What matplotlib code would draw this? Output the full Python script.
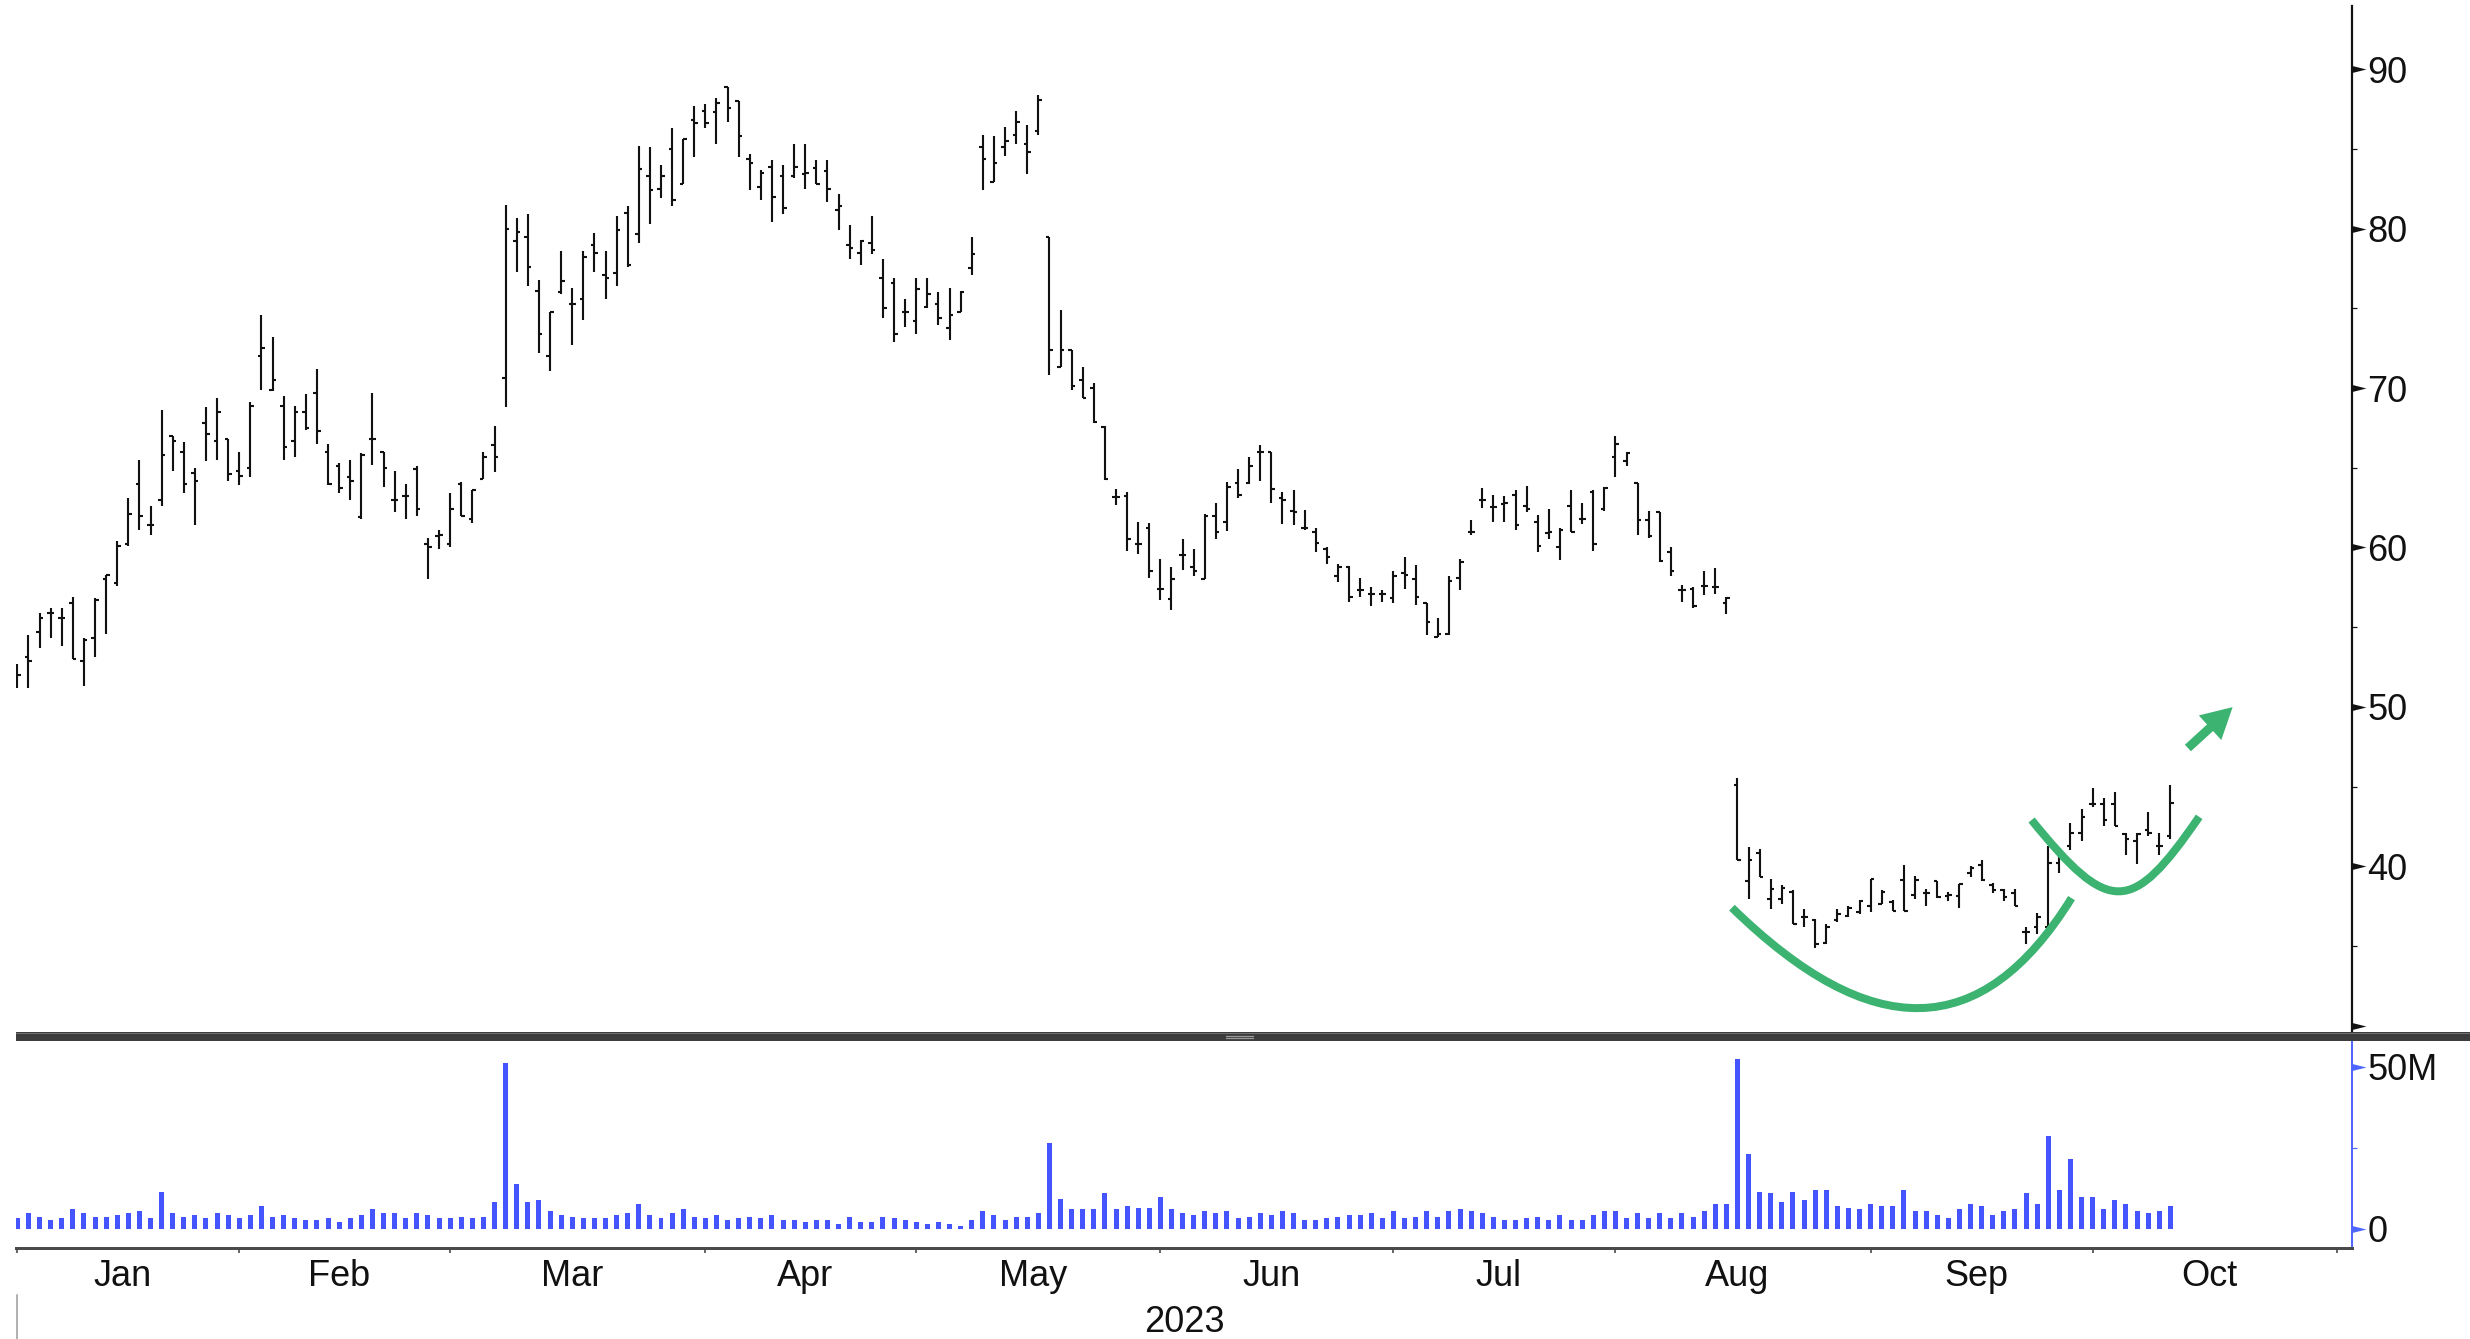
"""Daily OHLC bar chart with volume pane, Jan-Oct 2023, plus cup-and-handle sketch."""

import matplotlib
matplotlib.use("Agg")
import matplotlib.pyplot as plt
import numpy as np
from matplotlib.collections import LineCollection
from matplotlib.lines import Line2D
from matplotlib.markers import MarkerStyle
from matplotlib.patches import FancyArrowPatch, PathPatch, Rectangle
from matplotlib.path import Path
from matplotlib.transforms import blended_transform_factory

plt.rcParams["font.family"] = ["Liberation Sans", "DejaVu Sans"]

# ---- data (one bar per trading day) ----
opens = [
    52.0, 53.1, 54.7, 55.9, 55.6, 56.5, 52.9, 54.3, 58.0, 57.8,
    60.2, 64.0, 61.4, 63.0, 67.0, 66.0, 64.7, 67.8, 66.7, 66.8,
    64.8, 65.0, 72.0, 69.9, 68.9, 66.7, 68.5, 69.7, 66.0, 65.1,
    64.4, 61.9, 66.8, 66.0, 63.0, 63.2, 64.9, 60.2, 60.7, 60.2,
    64.0, 61.8, 64.3, 66.4, 70.6, 79.2, 79.45, 76.1, 72.0, 76.0,
    75.25, 75.6, 79.0, 77.1, 77.2, 81.0, 79.65, 83.3, 82.5, 85.0,
    82.8, 86.8, 87.4, 87.3, 88.9, 88.0, 84.4, 82.6, 83.9, 83.3,
    83.3, 83.4, 83.8, 83.6, 81.15, 79.0, 78.5, 79.1, 76.9, 76.6,
    74.75, 74.2, 75.1, 75.25, 73.75, 74.8, 77.55, 85.1, 82.95, 85.1,
    85.9, 85.3, 86.1, 79.5, 71.3, 72.4, 70.5, 70.0, 67.55, 63.15,
    63.2, 60.2, 61.2, 57.4, 56.75, 59.5, 58.75, 58.0, 62.0, 61.6,
    64.05, 64.05, 66.0, 66.0, 63.1, 62.3, 61.2, 61.0, 59.9, 58.2,
    58.8, 57.3, 57.1, 57.1, 56.8, 58.4, 58.0, 56.5, 54.4, 54.6,
    58.1, 61.0, 63.0, 62.55, 62.7, 63.3, 62.6, 61.6, 60.9, 60.0,
    62.6, 61.8, 63.5, 62.4, 65.7, 65.4, 64.05, 61.7, 62.2, 59.7,
    57.3, 57.4, 57.6, 57.5, 56.5, 45.1, 39.1, 40.85, 37.95, 37.95,
    38.4, 36.8, 36.6, 35.2, 36.6, 36.9, 37.1, 37.5, 37.6, 37.75,
    39.15, 38.2, 38.3, 39.1, 38.15, 38.15, 39.6, 40.05, 38.8, 38.5,
    38.3, 35.9, 36.2, 36.2, 40.2, 41.3, 42.1, 43.9, 43.9, 43.9,
    42.0, 41.6, 42.25, 41.3, 41.9,
]
highs = [
    52.7, 54.5, 55.9, 56.2, 56.2, 56.9, 54.3, 56.8, 58.3, 60.4,
    63.1, 65.5, 62.6, 68.6, 67.0, 66.6, 65.0, 68.8, 69.4, 66.8,
    66.0, 69.1, 74.6, 73.2, 69.5, 68.9, 69.6, 71.2, 66.5, 65.3,
    65.5, 65.9, 69.7, 66.0, 64.8, 64.0, 65.1, 60.6, 61.1, 63.4,
    64.1, 63.6, 66.0, 67.6, 81.5, 80.7, 80.95, 76.8, 74.8, 78.6,
    76.25, 78.6, 79.7, 78.6, 80.8, 81.4, 85.2, 85.1, 84.0, 86.3,
    85.6, 87.7, 87.8, 88.2, 88.9, 88.0, 84.7, 83.7, 84.3, 84.0,
    85.3, 85.3, 84.3, 84.3, 82.2, 80.2, 79.3, 80.8, 78.1, 76.9,
    75.6, 76.9, 76.9, 76.05, 76.25, 76.1, 79.45, 85.9, 85.8, 86.4,
    87.4, 86.5, 88.4, 79.5, 74.9, 72.4, 71.35, 70.3, 67.6, 63.65,
    63.45, 61.6, 61.55, 59.3, 58.75, 60.5, 59.9, 62.1, 62.8, 64.1,
    64.9, 65.7, 66.4, 66.0, 63.5, 63.6, 62.35, 61.2, 60.0, 58.95,
    58.85, 58.1, 57.5, 57.3, 58.5, 59.4, 58.9, 56.5, 55.6, 58.2,
    59.3, 61.7, 63.7, 63.3, 63.2, 63.6, 63.85, 62.06, 62.4, 61.25,
    63.6, 62.8, 63.6, 63.8, 67.0, 66.0, 64.05, 62.3, 62.2, 60.0,
    57.65, 57.5, 58.5, 58.7, 56.9, 45.55, 41.2, 41.05, 39.17, 38.8,
    38.5, 37.3, 36.7, 36.35, 37.3, 37.5, 37.9, 39.2, 38.5, 37.9,
    40.05, 39.4, 38.6, 39.1, 38.4, 38.9, 40.0, 40.4, 38.96, 38.55,
    38.6, 36.2, 37.06, 41.3, 40.9, 42.7, 43.6, 44.9, 44.3, 44.65,
    42.1, 42.1, 43.4, 42.1, 45.1,
]
lows = [
    51.2, 51.2, 53.7, 54.3, 53.8, 53.0, 51.3, 53.1, 54.6, 57.6,
    60.1, 61.1, 60.8, 62.6, 64.8, 63.4, 61.4, 65.4, 65.5, 64.2,
    63.9, 64.4, 69.9, 69.8, 65.5, 65.7, 67.4, 66.5, 63.9, 63.4,
    63.0, 61.8, 65.2, 63.8, 62.2, 61.8, 62.0, 58.0, 59.9, 60.0,
    62.0, 61.55, 64.3, 64.75, 68.8, 77.3, 76.4, 72.2, 71.1, 75.9,
    72.7, 74.3, 77.3, 75.6, 76.4, 77.6, 79.1, 80.3, 81.9, 81.4,
    82.8, 84.5, 86.3, 85.3, 86.7, 84.5, 82.45, 81.8, 80.4, 80.9,
    83.2, 82.5, 82.8, 81.7, 79.9, 78.1, 77.7, 78.4, 74.4, 72.9,
    73.8, 73.4, 75.0, 73.95, 73.0, 74.75, 77.1, 82.45, 82.9, 84.55,
    85.3, 83.45, 85.9, 70.8, 71.3, 69.9, 69.35, 67.8, 64.25, 62.65,
    59.8, 59.6, 58.1, 56.7, 56.1, 58.6, 58.2, 58.0, 60.5, 61.05,
    63.1, 64.0, 64.2, 62.8, 61.5, 61.4, 61.1, 59.7, 58.95, 57.85,
    56.6, 56.9, 56.3, 56.6, 56.5, 57.4, 56.4, 54.5, 54.4, 54.5,
    57.3, 60.8, 62.5, 61.6, 61.6, 61.1, 62.2, 59.7, 60.5, 59.2,
    61.0, 61.5, 59.8, 62.3, 64.4, 65.1, 60.8, 60.6, 59.1, 58.2,
    56.6, 56.2, 57.0, 57.1, 55.8, 40.4, 37.95, 39.3, 37.3, 37.6,
    36.4, 36.2, 34.85, 35.1, 36.5, 36.8, 37.0, 37.1, 37.6, 37.2,
    37.2, 37.95, 37.5, 38.0, 37.8, 37.4, 39.35, 39.1, 38.3, 37.85,
    37.5, 35.1, 35.76, 36.2, 39.6, 41.0, 41.6, 43.7, 42.5, 42.5,
    40.7, 40.15, 41.9, 40.7, 41.7,
]
closes = [
    52.0, 52.9, 55.6, 55.9, 55.6, 53.0, 54.2, 56.7, 58.3, 60.1,
    62.1, 62.0, 61.4, 65.8, 66.7, 64.0, 64.2, 67.1, 68.5, 64.6,
    64.5, 68.9, 72.5, 70.5, 66.3, 68.5, 67.5, 67.3, 63.95, 63.7,
    64.2, 65.8, 66.8, 65.0, 63.0, 63.2, 62.4, 60.0, 60.8, 62.4,
    62.0, 63.6, 65.7, 65.7, 80.0, 79.8, 77.6, 73.4, 74.8, 76.7,
    75.25, 78.2, 78.5, 76.9, 79.9, 77.7, 83.75, 82.4, 83.3, 81.8,
    85.6, 86.6, 86.6, 87.9, 87.6, 85.8, 84.1, 83.5, 82.0, 81.3,
    83.9, 83.5, 82.8, 82.5, 81.4, 78.8, 79.2, 78.65, 75.0, 73.4,
    74.75, 76.2, 75.9, 74.4, 74.6, 76.05, 78.4, 84.35, 84.1, 85.5,
    86.7, 84.8, 88.1, 72.4, 72.4, 70.1, 69.4, 67.9, 64.3, 63.15,
    60.5, 60.2, 58.5, 57.4, 58.0, 59.5, 58.5, 62.0, 61.0, 63.8,
    63.3, 65.1, 66.0, 63.65, 63.0, 62.2, 61.2, 60.25, 59.4, 58.8,
    56.9, 57.3, 57.1, 57.1, 58.2, 58.3, 56.9, 55.35, 54.6, 57.9,
    59.1, 61.0, 63.0, 62.55, 62.8, 61.4, 62.4, 60.1, 61.0, 61.1,
    61.0, 61.8, 60.2, 63.7, 66.5, 65.9, 61.7, 60.7, 59.15, 58.5,
    57.3, 56.3, 57.6, 57.5, 56.85, 40.4, 40.4, 39.35, 38.6, 38.65,
    36.4, 36.8, 35.1, 36.2, 37.0, 37.4, 37.8, 39.2, 38.4, 37.2,
    37.2, 39.15, 38.3, 38.1, 38.2, 38.9, 39.9, 39.15, 38.5, 38.05,
    37.5, 35.9, 36.8, 40.2, 40.7, 42.1, 43.1, 43.9, 42.9, 42.5,
    41.7, 42.0, 42.1, 41.3, 43.97,
]
volume_m = [  # millions of shares
    3.4, 4.9, 3.8, 2.8, 3.4, 6.1, 4.9, 3.8, 3.8, 4.4,
    4.9, 5.5, 3.4, 11.5, 4.9, 3.8, 4.4, 3.4, 4.9, 4.4,
    3.4, 4.4, 7.1, 3.8, 4.4, 3.4, 2.8, 2.8, 3.4, 2.2,
    3.4, 4.4, 6.1, 4.9, 4.9, 3.4, 4.9, 4.4, 3.4, 3.4,
    3.8, 3.4, 3.8, 8.2, 51.2, 13.9, 8.2, 8.8, 5.5, 4.4,
    3.8, 3.4, 3.4, 3.4, 4.4, 4.9, 7.7, 4.4, 3.4, 4.9,
    6.1, 3.8, 3.4, 4.4, 2.8, 3.4, 3.8, 3.4, 4.4, 2.8,
    2.8, 2.2, 2.8, 2.8, 1.6, 3.8, 2.2, 2.2, 3.8, 3.4,
    2.8, 2.2, 1.6, 2.2, 1.6, 1.0, 2.8, 5.5, 4.4, 2.8,
    3.8, 3.8, 4.9, 26.5, 9.3, 6.1, 6.1, 6.1, 11.0, 6.1,
    7.1, 6.6, 6.6, 9.8, 6.1, 4.9, 4.4, 5.5, 4.9, 5.5,
    3.4, 3.8, 4.9, 4.4, 5.5, 4.9, 2.8, 2.8, 3.4, 3.8,
    4.4, 4.4, 4.9, 3.4, 5.5, 3.4, 3.8, 5.5, 3.8, 5.5,
    6.1, 5.5, 4.9, 3.8, 2.8, 2.8, 3.4, 3.8, 2.8, 4.4,
    2.8, 2.8, 4.4, 5.5, 5.5, 3.4, 4.9, 3.4, 4.9, 3.4,
    4.9, 3.8, 5.5, 7.7, 7.7, 52.3, 23.2, 11.5, 11.0, 8.2,
    11.5, 8.8, 12.1, 12.1, 7.1, 6.6, 6.1, 7.7, 7.1, 7.1,
    12.1, 5.5, 5.5, 4.4, 3.4, 6.1, 7.7, 7.1, 4.4, 5.5,
    6.1, 11.0, 7.7, 28.7, 12.1, 21.7, 9.8, 9.8, 6.1, 8.8,
    7.7, 5.5, 4.9, 5.5, 7.1,
]

month_names = ["Jan", "Feb", "Mar", "Apr", "May", "Jun", "Jul", "Aug", "Sep", "Oct"]
month_starts = [0, 20, 39, 62, 81, 103, 124, 144, 167, 187, 209]  # trading-day index
price_ticks = [30, 40, 50, 60, 70, 80, 90]
price_labels = ["", "40", "50", "60", "70", "80", "90"]
price_minor = [35, 45, 55, 65, 75, 85]
vol_ticks = [0, 50]
vol_labels = ["0", "50M"]
vol_minor = [25]

# hand-drawn annotation: two cups (cubic Bezier anchors) and the breakout arrow
cup_big = [(154.5, 37.4), (167.0, 28.9), (177.0, 28.9), (185.1, 38.0)]
cup_small = [(181.5, 42.9), (188.5, 36.9), (190.5, 36.9), (196.6, 43.1)]
arrow_tail, arrow_tip = (195.4, 47.3), (199.8, 50.1)

W, H = 2470, 1339
BLACK = "#111111"
BLUE = "#4455ff"
GREEN = "#3cb371"
XLIM = (-0.12, 210.4)


def px(v):
    """pixels -> points at dpi 100"""
    return v * 0.72


def tri_marker():
    verts = [(0, -0.25), (1, 0), (0, 0.25), (0, -0.25)]
    return MarkerStyle(Path(verts, [Path.MOVETO, Path.LINETO, Path.LINETO, Path.CLOSEPOLY]))


def arrow_ticks(ax, values, color):
    tr = blended_transform_factory(ax.transAxes, ax.transData)
    ax.plot(np.ones(len(values)), values, transform=tr, ls="none", marker=tri_marker(),
            ms=20, color=color, mec=color, mew=0, clip_on=False, zorder=6)


def draw_ohlc(ax):
    x = np.arange(len(opens))
    segs = []
    for i, o, h, l, c in zip(x, opens, highs, lows, closes):
        segs.append([(i, l), (i, h)])
        segs.append([(i - 0.32, o), (i, o)])
        segs.append([(i, c), (i + 0.32, c)])
    ax.add_collection(LineCollection(segs, colors=BLACK, linewidths=px(2.1),
                                     capstyle="butt"))


def bezier(pts):
    return Path(pts, [Path.MOVETO, Path.CURVE4, Path.CURVE4, Path.CURVE4])


def main():
    fig = plt.figure(figsize=(W / 100, H / 100), dpi=100)
    left, right = 16 / W, 2352.3 / W
    ax = fig.add_axes([left, 1 - 1032 / H, right - left, (1032 - 6) / H])
    axv = fig.add_axes([left, 1 - 1248.3 / H, right - left, (1248.3 - 1041) / H])

    # ---- price pane ----
    draw_ohlc(ax)
    ax.set_xlim(*XLIM)
    ax.set_ylim(29.6, 93.97)
    for s in ["left", "top", "bottom"]:
        ax.spines[s].set_visible(False)
    ax.spines["right"].set_color(BLACK)
    ax.spines["right"].set_linewidth(px(2.2))
    ax.set_xticks([])
    ax.yaxis.tick_right()
    ax.set_yticks(price_ticks)
    ax.set_yticklabels(price_labels)
    ax.set_yticks(price_minor, minor=True)
    ax.tick_params(axis="y", which="major", length=0, pad=11, labelsize=26, colors=BLACK)
    ax.tick_params(axis="y", which="minor", length=px(5), width=px(1.2), colors=BLACK)
    arrow_ticks(ax, price_ticks, BLACK)

    for pts in (cup_big, cup_small):
        ax.add_patch(PathPatch(bezier(pts), fill=False, ec=GREEN, lw=px(8),
                               capstyle="butt", clip_on=False, zorder=5))
    ax.add_patch(FancyArrowPatch(arrow_tail, arrow_tip, arrowstyle="simple,head_length=0.55,"
                                 "head_width=0.6,tail_width=0.16", mutation_scale=40,
                                 color=GREEN, lw=0, zorder=5, clip_on=False))

    # ---- volume pane ----
    axv.bar(np.arange(len(volume_m)), volume_m, width=0.45, color=BLUE, linewidth=0)
    axv.set_xlim(*XLIM)
    axv.set_ylim(-5.95, 57.9)
    for s in ["left", "top"]:
        axv.spines[s].set_visible(False)
    axv.spines["right"].set_color("#5066ff")
    axv.spines["right"].set_linewidth(px(2))
    axv.spines["bottom"].set_color("#4a4a4a")
    axv.spines["bottom"].set_linewidth(px(3))
    axv.yaxis.tick_right()
    axv.set_yticks(vol_ticks)
    axv.set_yticklabels(vol_labels)
    axv.set_yticks(vol_minor, minor=True)
    axv.tick_params(axis="y", which="major", length=0, pad=11, labelsize=26, colors=BLACK)
    axv.tick_params(axis="y", which="minor", length=px(5), width=px(1.2), colors="#5066ff")
    arrow_ticks(axv, vol_ticks, "#4d66ff")

    # month boundaries as ticks, names centred over each month's bars
    axv.set_xticks(month_starts)
    axv.set_xticklabels([])
    centres = [(a + b - 1) / 2 for a, b in zip(month_starts[:-1], month_starts[1:])]
    axv.set_xticks(centres, minor=True)
    axv.set_xticklabels(month_names, minor=True)
    axv.tick_params(axis="x", which="major", length=px(5), width=px(1.6), color="#444444",
                    direction="out")
    axv.tick_params(axis="x", which="minor", length=0, pad=px(11), labelsize=26,
                    colors=BLACK)
    fig.text((16 + 2352.3) / 2 / W, 1 - 1332 / H, "2023", ha="center", va="baseline",
             fontsize=26, color=BLACK)

    # pane separator bar with its grip, and the stray left marker line
    fig.add_artist(Rectangle((left, 1 - 1041 / H), 1 - left, 9 / H, transform=fig.transFigure,
                             color="#3c3c3c", lw=0))
    fig.add_artist(Line2D([left, 1], [1 - 1033 / H] * 2, transform=fig.transFigure,
                          color="#707070", lw=px(1)))
    for yy in (1035.5, 1038):
        fig.add_artist(Line2D([1226 / W, 1253 / W], [1 - yy / H] * 2,
                              transform=fig.transFigure, color="#9a9a9a", lw=px(1.2)))
    fig.add_artist(Line2D([17.3 / W] * 2, [0, 1 - 1295 / H], transform=fig.transFigure,
                          color="#999999", lw=px(1.5)))

    fig.savefig("out.png", dpi=100, facecolor="white")
    plt.close(fig)


if __name__ == "__main__":
    main()
